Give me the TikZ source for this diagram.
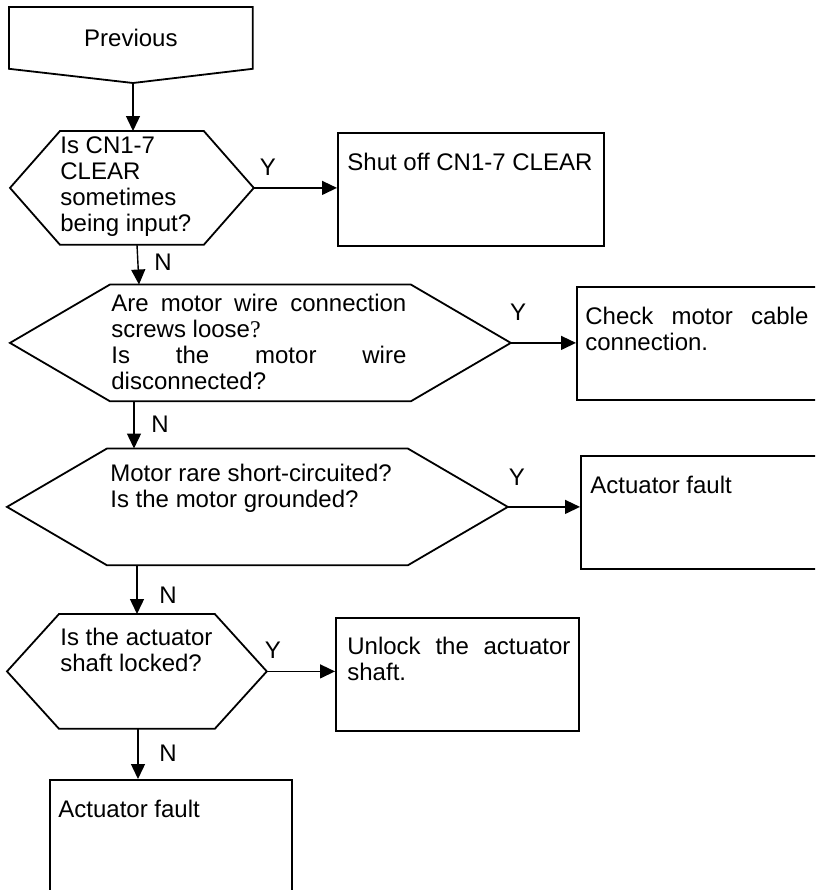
\documentclass[tikz,border=0pt]{standalone}
\usepackage{fontspec}
\setmainfont{Liberation Sans}
\newfontfamily\qmarkfont{Liberation Serif}
\usetikzlibrary{arrows.meta,positioning}

\tikzset{
  outline/.style={draw, line width=0.9pt},
  boxnode/.style={outline, inner sep=0pt, anchor=north west},
  hexnode/.style={draw=none, inner sep=0pt, anchor=north west},
  txt/.style={inner sep=0pt, anchor=base west, align=left, text width=150pt,
    font=\fontsize{12pt}{13pt}\selectfont,
    execute at begin node={\spaceskip=0pt\xspaceskip=0pt}},
  yn/.style={inner sep=0pt, font=\fontsize{12pt}{13pt}\selectfont},
  flow/.style={line width=0.7pt, -{Triangle[length=7.5pt,width=7pt]}}
}
% outline of a decision node: #1 node name, #2 chamfer
\newcommand\hexdraw[2]{%
  \draw[outline] (#1.west) -- ([xshift=#2]#1.north west) -- ([xshift=-#2]#1.north east)
    -- (#1.east) -- ([xshift=-#2]#1.south east) -- ([xshift=#2]#1.south west) -- cycle;}
% justified line
\newcommand\spread[2]{{\spaceskip=0pt\xspaceskip=0pt\makebox[#1][s]{#2}}}

\begin{document}
\begin{tikzpicture}[x=0.5pt,y=-0.5pt]
  \useasboundingbox (0,0) rectangle (815,890);
  \clip (0,0) rectangle (815,890);

  % start
  \node[hexnode, minimum width=121.5pt, minimum height=30.5pt,
    font=\fontsize{12pt}{13pt}\selectfont] (prev) at (9,7) {Previous};
  \coordinate (prevtip) at (133,83);
  \draw[outline] (prev.south west) -- (prev.north west) -- (prev.north east)
    -- (prev.south east) -- (prevtip) -- cycle;

  % decisions
  \node[hexnode, minimum width=121.5pt, minimum height=56.5pt] (q1) at (10,131) {};
  \hexdraw{q1}{25pt}
  \node[txt] (q1t) at (60,153) {Is CN1-7\\CLEAR\\sometimes\\being input?};

  \node[hexnode, minimum width=250pt, minimum height=58pt] (q2) at (10,284.5) {};
  \hexdraw{q2}{50pt}
  \node[txt] (q2t) at (111,311) {\spread{147.5pt}{Are motor wire connection}\\
    screws loose{\qmarkfont ?}\\\spread{147.5pt}{Is the motor wire}\\disconnected?};

  \node[hexnode, minimum width=250pt, minimum height=58pt] (q3) at (7,448.5) {};
  \hexdraw{q3}{50pt}
  \node[txt] (q3t) at (110,481) {Motor rare short-circuited?\\Is the motor grounded?};

  \node[hexnode, minimum width=129.5pt, minimum height=57pt] (q4) at (7,614) {};
  \hexdraw{q4}{26pt}
  \node[txt] (q4t) at (60,645) {Is the actuator\\shaft locked?};

  % actions
  \node[boxnode, minimum width=133pt, minimum height=56.5pt] (b1) at (337,132) {};
  \node[txt] (b1t) at (347,170) {Shut off CN1-7 CLEAR};

  \node[boxnode, minimum width=130pt, minimum height=56.5pt] (b2) at (576,286) {};
  \node[txt] (b2t) at (585,324) {\spread{111.5pt}{Check motor cable}\\connection.};

  \node[boxnode, minimum width=130pt, minimum height=56.5pt] (b3) at (580,455) {};
  \node[txt] (b3t) at (590,493) {Actuator fault};

  \node[boxnode, minimum width=121.5pt, minimum height=56.5pt] (b4) at (335,617) {};
  \node[txt] (b4t) at (347,654) {\spread{111.5pt}{Unlock the actuator}\\shaft.};

  \node[boxnode, minimum width=121pt, minimum height=60pt] (b5) at (49,779) {};
  \node[txt] (b5t) at (58,817) {Actuator fault};

  % connectors
  \draw[flow] (prevtip) -- (prevtip |- q1.north);
  \draw[flow] (q1.east) -- (b1.west |- q1.east);
  \draw[flow] (q1.south -| 137,0) -- (q2.north -| 139,0);
  \draw[flow] (q2.east) -- (b2.west |- q2.east);
  \draw[flow] (q2.south -| 134,0) -- (q3.north -| 134,0);
  \draw[flow] (q3.east) -- (b3.west |- q3.east);
  \draw[flow] (q3.south -| 137,0) -- (q4.north -| 137,0);
  \draw[flow] (q4.east) -- (b4.west |- q4.east);
  \draw[flow] (q4.south -| 138,0) -- (b5.north -| 138,0);

  % branch labels
  \node[yn] (y1) at (268,167) {Y};
  \node[yn] (y2) at (518,312) {Y};
  \node[yn] (y3) at (517,477) {Y};
  \node[yn] (y4) at (273,650) {Y};
  \node[yn] (n1) at (163,262) {N};
  \node[yn] (n2) at (160,424) {N};
  \node[yn] (n3) at (168,595) {N};
  \node[yn] (n4) at (168,753) {N};
\end{tikzpicture}
\end{document}
